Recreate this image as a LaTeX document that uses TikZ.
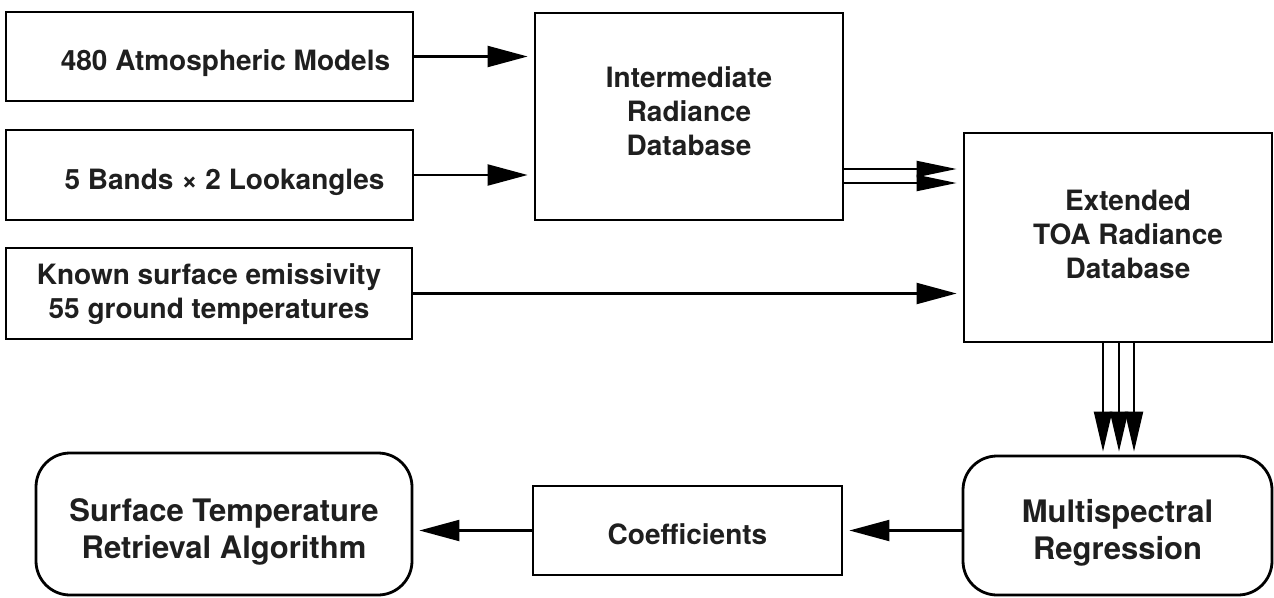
\documentclass[tikz,border=0pt]{standalone}
\usepackage{fontspec}
\setmainfont{TeX Gyre Heros}
\usetikzlibrary{arrows.meta}
% centred block of lines, moved right by half of #1 and down by #2
\newcommand\boxtext[3]{\hspace*{#1}\raisebox{-#2}[\height][\depth]{\begin{tabular}{@{}c@{}}#3\end{tabular}}}
\begin{document}
\begin{tikzpicture}[x=1pt,y=-1pt,
  box/.style={draw=black, line width=2.8pt, inner sep=0pt,
    font=\bfseries\fontsize{28}{34}\selectfont, text=black!88},
  rbox/.style={box, rounded corners=34pt, font=\bfseries\fontsize{31}{37}\selectfont},
  flow/.style={line width=2.1pt, -{Triangle[length=40pt,width=21pt]}, shorten >=6pt},
  flowpair/.style={flow, -{Triangle[length=40pt,width=16pt]}},
  flowtrio/.style={flow, -{Triangle[length=40pt,width=18pt]}, shorten >=3pt},
]
\useasboundingbox (0,0) rectangle (1274,597);

% input boxes
\node[box, minimum width=407pt, minimum height=89pt] (atm)   at (209.5,56.5)
  {\boxtext{32pt}{7pt}{480 Atmospheric Models}};
\node[box, minimum width=407pt, minimum height=90pt] (bands) at (209.5,175)
  {\boxtext{30pt}{8pt}{5 Bands × 2 Lookangles}};
\node[box, minimum width=406pt, minimum height=91pt] (emis)  at (209,293.5)
  {\boxtext{0pt}{1.5pt}{Known surface emissivity\\55 ground temperatures}};

% databases
\node[box, minimum width=308pt, minimum height=207pt] (inter) at (689,116.5)
  {\boxtext{0pt}{-2pt}{Intermediate\\Radiance\\Database}};
\node[box, minimum width=308pt, minimum height=209pt] (ext)   at (1118,237.5)
  {\boxtext{20pt}{0pt}{Extended\\TOA Radiance\\Database}};

% bottom row
\node[rbox, minimum width=309pt, minimum height=139pt] (multi) at (1117.5,525.5)
  {\boxtext{0pt}{8pt}{Multispectral\\Regression}};
\node[box,  minimum width=309pt, minimum height=89pt]  (coef)  at (687.5,530.5)
  {\boxtext{0pt}{7.5pt}{Coefficients}};
\node[rbox, minimum width=376pt, minimum height=142pt] (surf)  at (224,524)
  {\boxtext{0pt}{9pt}{Surface Temperature\\Retrieval Algorithm}};

% helper rows and columns for the parallel connectors
\coordinate (d1) at (0,169);
\coordinate (d2) at (0,183);
\coordinate (t1) at (1103,0);
\coordinate (t2) at (1119,0);
\coordinate (t3) at (1134,0);

% connectors
\draw[flow] (atm.east) -- (atm.east -| inter.west);
\draw[flow] (bands.east) -- (bands.east -| inter.west);
\draw[flow] (emis.east) -- (emis.east -| ext.west);
\draw[flowpair] (inter.east |- d1) -- (ext.west |- d1);
\draw[flowpair] (inter.east |- d2) -- (ext.west |- d2);
\draw[flowtrio] (t1 |- ext.south) -- (t1 |- multi.north);
\draw[flowtrio] (t2 |- ext.south) -- (t2 |- multi.north);
\draw[flowtrio] (t3 |- ext.south) -- (t3 |- multi.north);
\draw[flow] (multi.west |- coef.east) -- (coef.east);
\draw[flow] (coef.west) -- (coef.west -| surf.east);
\end{tikzpicture}
\end{document}
